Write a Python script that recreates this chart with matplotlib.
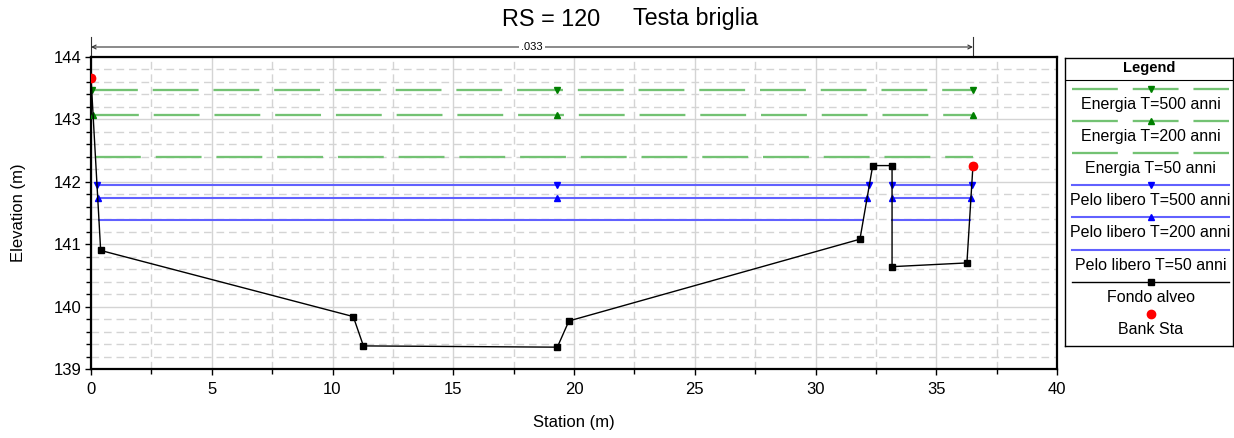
import numpy as np
import matplotlib
matplotlib.use("Agg")
import matplotlib.pyplot as plt
from matplotlib.ticker import MultipleLocator
from matplotlib.transforms import blended_transform_factory

plt.rcParams['font.family'] = ['Liberation Sans', 'DejaVu Sans']

# ---------------- data ----------------
title_rs = "RS = 120"
title_name = "Testa briglia"
ground_sta = [0.0, 0.40, 10.86, 11.28, 19.31, 19.79, 31.84, 32.37, 33.17, 33.17, 36.27, 36.52]
ground_elev = [143.67, 140.90, 139.84, 139.37, 139.35, 139.77, 141.08, 142.26, 142.26, 140.64, 140.70, 142.26]
bank_sta = [0.0, 36.52]
bank_elev = [143.67, 142.26]
manning_n = ".033"

energy_labels = ["Energia T=500 anni", "Energia T=200 anni", "Energia T=50 anni"]
energy_levels = [143.47, 143.075, 142.40]
ws_labels = ["Pelo libero T=500 anni", "Pelo libero T=200 anni", "Pelo libero T=50 anni"]
ws_levels = [141.95, 141.745, 141.39]
level_markers = ['v', '^', None]
mid_marker_sta = 19.31

xlim = (0, 40)
ylim = (139, 144)

# ---------------- helpers ----------------
gs = np.array(ground_sta)
ge = np.array(ground_elev)


def wet_segments(level):
    segs = []
    cur = None
    for i in range(len(gs) - 1):
        x0, x1, y0, y1 = gs[i], gs[i + 1], ge[i], ge[i + 1]
        below0, below1 = y0 < level, y1 < level
        if below0 and below1:
            if cur is None:
                cur = [x0, x1]
            else:
                cur[1] = x1
        elif below0 != below1:
            xc = x0 + (x1 - x0) * (level - y0) / (y1 - y0)
            if below0:
                if cur is None:
                    cur = [x0, xc]
                else:
                    cur[1] = xc
                segs.append(cur)
                cur = None
            else:
                cur = [xc, x1]
        else:
            if cur is not None:
                segs.append(cur)
                cur = None
    if cur is not None:
        segs.append(cur)
    return segs


# ---------------- figure ----------------
W, H = 1234, 438
fig = plt.figure(figsize=(W / 100, H / 100), dpi=100)
L, R, T, B = 91, 1057, 57, 369
ax = fig.add_axes([L / W, (H - B) / H, (R - L) / W, (B - T) / H])
ax.set_xlim(*xlim)
ax.set_ylim(*ylim)

ax.xaxis.set_major_locator(MultipleLocator(5))
ax.xaxis.set_minor_locator(MultipleLocator(2.5))
ax.yaxis.set_major_locator(MultipleLocator(1))
ax.yaxis.set_minor_locator(MultipleLocator(0.2))
ax.grid(which='major', color='#d4d4d4', lw=1.0, ls='-', zorder=0)
ax.grid(which='minor', color='#d4d4d4', lw=1.0, ls=(0, (5.5, 3.5)), zorder=0)
ax.set_axisbelow(True)
ax.tick_params(axis='y', which='major', direction='out', length=4.5, width=1, labelsize=12, pad=2)
ax.tick_params(axis='x', which='major', direction='out', length=4.5, width=1, labelsize=12, pad=5)
ax.tick_params(which='minor', direction='out', length=3.5, width=1)
for s in ax.spines.values():
    s.set_linewidth(1.6)

ax.set_xlabel("Station (m)", fontsize=12, labelpad=13)
ax.set_ylabel("Elevation (m)", fontsize=12, labelpad=20)
fig.text(502 / W, 1 - 19 / H, title_rs, ha='left', va='center', fontsize=16.8)
fig.text(633 / W, 1 - 19 / H, title_name, ha='left', va='center', fontsize=16.8)

green_line = (0.45, 0.76, 0.45)
green_mk = '#008000'
blue_line = (0.38, 0.38, 1.0)
blue_mk = '#0000ff'
dash = (20.0, 6.5)
elw = 1.65

# energy lines
for lev, mk in zip(energy_levels, level_markers):
    segs = wet_segments(lev)
    for a, b in segs:
        ln, = ax.plot([a, b], [lev, lev], color=green_line, lw=elw, zorder=3)
        ln.set_dashes(dash)
        if mk:
            xs = [a, b] + ([mid_marker_sta] if a < mid_marker_sta < b else [])
            ax.plot(xs, [lev] * len(xs), ls='none', marker=mk, ms=4, color=green_mk, zorder=4)

# water surfaces
for lev, mk in zip(ws_levels, level_markers):
    segs = wet_segments(lev)
    for a, b in segs:
        ax.plot([a, b], [lev, lev], color=blue_line, lw=1.5, zorder=3)
        if mk:
            xs = [a, b] + ([mid_marker_sta] if a < mid_marker_sta < b else [])
            ax.plot(xs, [lev] * len(xs), ls='none', marker=mk, ms=4, color=blue_mk, zorder=4)

# ground
ax.plot(ground_sta, ground_elev, color='black', lw=1.0, marker='s', ms=4, zorder=5)
ax.plot(bank_sta, bank_elev, ls='none', marker='o', ms=6, color='red', zorder=6)

# Manning n annotation above the plot
tr = blended_transform_factory(ax.transData, ax.transAxes)
ya = 1 + 10 / (B - T)
ax.annotate('', xy=(bank_sta[0], ya), xytext=(bank_sta[1], ya), xycoords=tr, textcoords=tr,
            arrowprops=dict(arrowstyle='<->', lw=0.8, color='#333333', shrinkA=0, shrinkB=0,
                            mutation_scale=7), annotation_clip=False)
for xb in bank_sta:
    ax.plot([xb, xb], [1.0, 1 + 20 / (B - T)], transform=tr, color='#333333', lw=0.8, clip_on=False)
ax.text((bank_sta[0] + bank_sta[1]) / 2, ya, manning_n, transform=tr, ha='center', va='center',
        fontsize=8, bbox=dict(facecolor='white', edgecolor='none', pad=1.5), clip_on=False)

# ---------------- legend ----------------
LL, LR, LT, LB = 1065, 1233, 58, 346
lax = fig.add_axes([LL / W, (H - LB) / H, (LR - LL) / W, (LB - LT) / H])
lax.set_xlim(LL, LR)
lax.set_ylim(LB, LT)
lax.set_xticks([])
lax.set_yticks([])
for s in lax.spines.values():
    s.set_linewidth(1.0)
lax.text((LL + LR) / 2, 68, "Legend", ha='center', va='center', fontsize=10.5, fontweight='bold')
lax.plot([LL, LR], [80, 80], color='black', lw=0.8)

x0l, x1l = 1072, 1229
xc = (x0l + x1l) / 2
fs = 11.5
row0 = 89
step = 32.1
entries = []
for lab, mk in zip(energy_labels, level_markers):
    entries.append(('energy', lab, mk))
for lab, mk in zip(ws_labels, level_markers):
    entries.append(('ws', lab, mk))
entries.append(('ground', "Fondo alveo", 's'))
entries.append(('bank', "Bank Sta", 'o'))

for i, (kind, lab, mk) in enumerate(entries):
    yl = row0 + i * step
    yt = yl + 15.5
    if kind == 'energy':
        ln, = lax.plot([x0l, x1l], [yl, yl], color=green_line, lw=elw)
        ln.set_dashes(dash)
        if mk:
            lax.plot([xc], [yl], marker=mk, ms=4, color=green_mk, ls='none')
    elif kind == 'ws':
        lax.plot([x0l, x1l], [yl, yl], color=blue_line, lw=1.5)
        if mk:
            lax.plot([xc], [yl], marker=mk, ms=4, color=blue_mk, ls='none')
    elif kind == 'ground':
        lax.plot([x0l, x1l], [yl, yl], color='black', lw=1.0)
        lax.plot([xc], [yl], marker='s', ms=4, color='black', ls='none')
    else:
        lax.plot([xc], [yl], marker='o', ms=6, color='red', ls='none')
    lax.text(xc, yt, lab, ha='center', va='center', fontsize=fs)

fig.savefig("out.png", dpi=100)
